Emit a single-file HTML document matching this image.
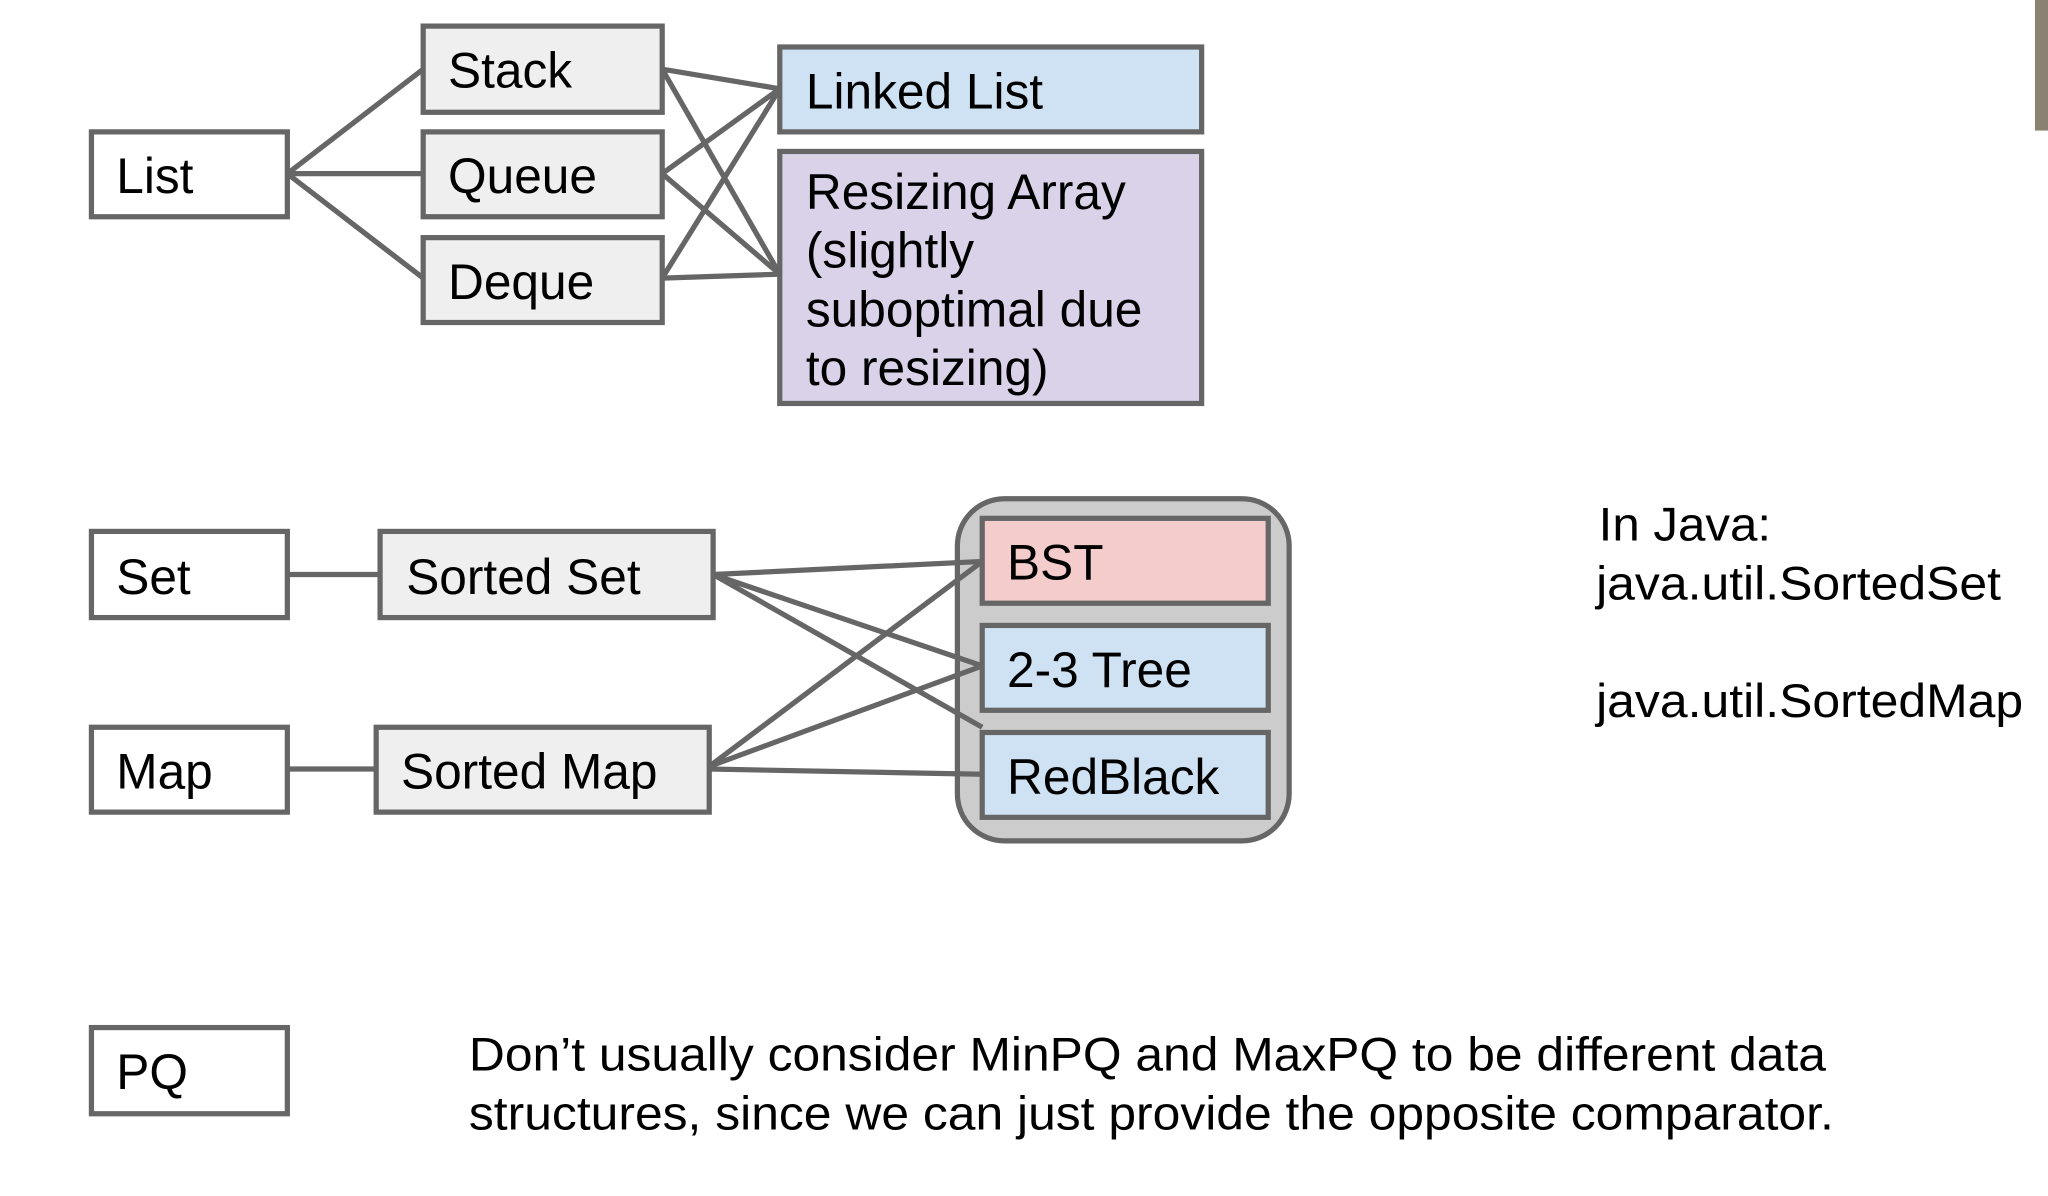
<!DOCTYPE html>
<html><head><meta charset="utf-8"><style>
html,body{margin:0;padding:0;background:#fff;width:2048px;height:1196px;overflow:hidden}
svg{display:block}
text{font-family:"Liberation Sans",Arial,sans-serif;fill:#000}
</style></head><body>
<svg width="2048" height="1196" viewBox="0 0 1568 916" preserveAspectRatio="none" xmlns="http://www.w3.org/2000/svg">
<rect x="1558" y="0" width="10" height="100" fill="#8a8270"/>
<g stroke="#666" stroke-width="4" fill="none">
<line x1="220" y1="133" x2="324" y2="53"/>
<line x1="220" y1="133" x2="324" y2="133"/>
<line x1="220" y1="133" x2="324" y2="213"/>
<line x1="507" y1="53" x2="597" y2="68"/>
<line x1="507" y1="53" x2="597" y2="210"/>
<line x1="507" y1="133" x2="597" y2="68"/>
<line x1="507" y1="133" x2="597" y2="210"/>
<line x1="507" y1="213" x2="597" y2="68"/>
<line x1="507" y1="213" x2="597" y2="210"/>
<line x1="220" y1="440" x2="291" y2="440"/>
<line x1="220" y1="589" x2="288" y2="589"/>
</g>
<rect x="733" y="382" width="254" height="262" rx="36" fill="#ccc" stroke="#666" stroke-width="4"/>
<g stroke="#666" stroke-width="4" fill="none">
<line x1="546" y1="440" x2="752" y2="430"/>
<line x1="546" y1="440" x2="752" y2="510"/>
<line x1="546" y1="440" x2="752" y2="557"/>
<line x1="543" y1="587" x2="752" y2="430"/>
<line x1="543" y1="587" x2="752" y2="510"/>
<line x1="543" y1="589" x2="752" y2="593"/>
</g>
<g stroke="#666" stroke-width="4">
<rect x="70" y="101" width="150" height="65" fill="#fff"/>
<rect x="324" y="20" width="183" height="66" fill="#efefef"/>
<rect x="324" y="101" width="183" height="65" fill="#efefef"/>
<rect x="324" y="182" width="183" height="65" fill="#efefef"/>
<rect x="597" y="36" width="323" height="65" fill="#cfe2f3"/>
<rect x="597" y="116" width="323" height="193" fill="#d9d2e9"/>
<rect x="70" y="407" width="150" height="66" fill="#fff"/>
<rect x="291" y="407" width="255" height="66" fill="#efefef"/>
<rect x="70" y="557" width="150" height="65" fill="#fff"/>
<rect x="288" y="557" width="255" height="65" fill="#efefef"/>
<rect x="752" y="397" width="219" height="65" fill="#f4cccc"/>
<rect x="752" y="479" width="219" height="65" fill="#cfe2f3"/>
<rect x="752" y="561" width="219" height="65" fill="#cfe2f3"/>
<rect x="70" y="787" width="150" height="66" fill="#fff"/>
</g>
<g font-size="38">
<text x="89" y="148">List</text>
<text x="343" y="67">Stack</text>
<text x="343" y="148">Queue</text>
<text x="343" y="229">Deque</text>
<text x="617" y="83">Linked List</text>
<text x="617" y="160">Resizing Array</text>
<text x="617" y="205">(slightly</text>
<text x="617" y="250">suboptimal due</text>
<text x="617" y="295">to resizing)</text>
<text x="89" y="455">Set</text>
<text x="311" y="455">Sorted Set</text>
<text x="89" y="604">Map</text>
<text x="307" y="604">Sorted Map</text>
<text x="771" y="444">BST</text>
<text x="771" y="526">2-3 Tree</text>
<text x="771" y="608">RedBlack</text>
<text x="89" y="834">PQ</text>
</g>
<g font-size="36">
<text x="1224" y="414" textLength="132" lengthAdjust="spacingAndGlyphs">In Java:</text>
<text x="1222" y="459" textLength="310" lengthAdjust="spacingAndGlyphs">java.util.SortedSet</text>
<text x="1222" y="549" textLength="327" lengthAdjust="spacingAndGlyphs">java.util.SortedMap</text>
<text x="359" y="820" textLength="1039" lengthAdjust="spacingAndGlyphs">Don’t usually consider MinPQ and MaxPQ to be different data</text>
<text x="359" y="865" textLength="1045" lengthAdjust="spacingAndGlyphs">structures, since we can just provide the opposite comparator.</text>
</g>
</svg>
</body></html>
